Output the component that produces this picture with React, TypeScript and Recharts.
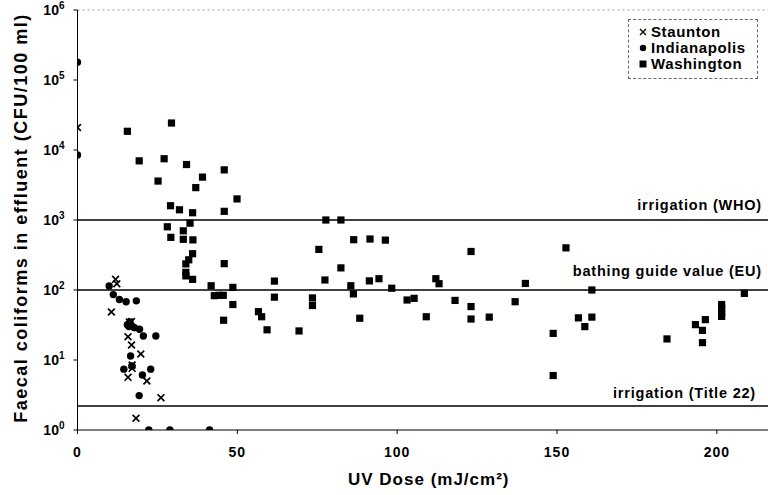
import { ScatterChart, Scatter, XAxis, YAxis, ReferenceLine, Legend } from 'recharts';

// UV dose (mJ/cm2) and faecal coliforms (CFU/100 ml)
const stauntonDose = [0, 11.9, 12.3, 10.6, 16.2, 16.9, 15.8, 16.9, 19.8, 17.1, 17.1, 15.8, 21.7, 26.1, 18.3];
const stauntonCfu = [21000, 142, 123, 48.5, 35, 35.5, 21.5, 16.4, 12.2, 8.5, 7.6, 5.65, 5.0, 2.9, 1.47];

const indyDose = [0, 0, 9.9, 11.2, 13.1, 15.2, 18.4, 15.6, 16.4, 16.1, 17.8, 19.4, 20.6, 24.5, 16.6, 14.5, 17.0, 22.9, 20.3, 19.3, 22.3, 28.9, 41.3];
const indyCfu = [180000, 8500, 114, 86, 73, 68, 70, 32, 35, 30, 29, 27.5, 22, 22, 11.4, 7.4, 8.2, 7.4, 6.1, 3.1, 1, 1, 1];

const washDose = [
  15.6, 29.4, 19.3, 27.1, 34.1, 45.9, 25.2, 39.1, 37.0, 49.9, 29.1, 31.9, 36.0, 45.9, 28.1, 35.2, 33.1, 29.2, 33.1, 36.1,
  36.0, 34.8, 33.9, 45.9, 33.9, 33.9, 36.0, 41.8, 48.6, 42.8, 44.2, 45.6, 48.6, 45.7, 56.6, 57.6, 59.3,
  77.7, 82.4, 86.4, 91.5, 96.3, 75.5, 123.1, 82.4, 61.6, 77.4, 91.3, 94.3, 112.1, 113.1, 85.5, 98.3, 86.3,
  61.6, 73.5, 73.5, 103.1, 105.3, 118.1, 123.1, 88.3, 109.1, 123.1, 128.8, 69.3,
  152.8, 140.1, 160.9, 208.6, 136.9, 156.7, 160.9, 158.7, 148.8, 148.8, 184.4, 193.3, 196.4, 195.5, 195.5,
  201.5, 201.5, 201.5, 201.5,
];
const washCfu = [
  18500, 24300, 7000, 7500, 6200, 5200, 3600, 4100, 2900, 2000, 1600, 1400, 1270, 1330, 800, 900, 700, 565, 530, 520,
  330, 270, 236, 238, 179, 159, 142, 115, 109, 83, 84, 84, 62, 37, 49, 41.5, 27,
  1000, 1000, 523, 535, 516, 380, 355, 207, 134, 139, 135, 145, 145, 123, 115, 106, 88,
  79, 77, 60, 72, 76, 71, 58, 39.5, 41.5, 38.5, 41, 26,
  400, 124, 100, 89.5, 68, 40, 41, 30, 24, 6.0, 20, 32, 37.7, 26.5, 17.7,
  62, 55, 47, 42,
];

const xTicks = [0, 50, 100, 150, 200];
const yTicks = [1, 10, 100, 1000, 10000, 100000, 1000000];
const seriesNames = ['Staunton', 'Indianapolis', 'Washington'];

const zip = (xs: number[], ys: number[]) => xs.map((x, i) => ({ x, y: ys[i] }));
const staunton = zip(stauntonDose, stauntonCfu);
const indianapolis = zip(indyDose, indyCfu);
const washington = zip(washDose, washCfu);

const FONT = '"Liberation Sans", Arial, sans-serif';

const XMark = (p: any) => {
  const { cx, cy } = p;
  const s = 3.4;
  return (
    <path
      d={`M${cx - s},${cy - s}L${cx + s},${cy + s}M${cx - s},${cy + s}L${cx + s},${cy - s}`}
      stroke="#000"
      strokeWidth={1.7}
      fill="none"
    />
  );
};
const Dot = (p: any) => <circle cx={p.cx} cy={p.cy} r={3.7} fill="#000" />;
const Square = (p: any) => <rect x={p.cx - 3.6} y={p.cy - 3.6} width={7.2} height={7.2} fill="#000" />;

const PowTick = (props: any) => {
  const { x, y, payload } = props;
  const exp = Math.round(Math.log10(payload.value));
  return (
    <text x={x} y={y + 5} textAnchor="end" fontFamily={FONT} fontWeight={700} fontSize={14} fill="#000">
      10
      <tspan dy={-6} fontSize={10}>
        {exp}
      </tspan>
    </text>
  );
};

const lineLabel = (text: string, lift: number, inset: number) => (props: any) => {
  const { viewBox } = props;
  return (
    <text
      x={viewBox.x + viewBox.width - inset}
      y={viewBox.y - lift}
      textAnchor="end"
      fontFamily={FONT}
      fontWeight={700}
      fontSize={14.5}
      letterSpacing={0.8}
      fill="#000"
    >
      {text}
    </text>
  );
};

const LegendBox = () => (
  <div
    style={{
      border: '1px dashed #666',
      boxSizing: 'border-box',
      width: 130,
      height: 60,
      padding: '4px 0 0 9px',
      fontFamily: FONT,
      fontWeight: 700,
      fontSize: 15,
      lineHeight: '16px',
      letterSpacing: 0.6,
      color: '#000',
      background: '#fff',
    }}
  >
    {seriesNames.map((name, i) => (
      <div key={name} style={{ display: 'flex', alignItems: 'center' }}>
        <svg width={10} height={10} style={{ marginRight: 3 }}>
          {i === 0 && <path d="M2,2L8,8M2,8L8,2" stroke="#000" strokeWidth={1.4} />}
          {i === 1 && <circle cx={5} cy={5} r={3.2} fill="#000" />}
          {i === 2 && <rect x={1.5} y={1.5} width={7} height={7} fill="#000" />}
        </svg>
        {name}
      </div>
    ))}
  </div>
);

export default function App() {
  return (
    <div style={{ position: 'absolute', left: 0, top: 0, width: 768, height: 495, background: '#fff' }}>
      <ScatterChart width={768} height={495} margin={{ top: 10, right: 0, bottom: 0, left: 0 }}>
        <XAxis
          type="number"
          dataKey="x"
          domain={[0, 216]}
          ticks={xTicks}
          allowDataOverflow
          height={65}
          tickSize={4}
          tickMargin={13}
          stroke="#000"
          tick={{ fill: '#000', fontFamily: FONT, fontWeight: 700, fontSize: 14, letterSpacing: 1 }}
          label={(props: any) => {
            const { viewBox } = props;
            return (
              <text
                x={viewBox.x + viewBox.width / 2 + 6}
                y={485}
                textAnchor="middle"
                fontFamily={FONT}
                fontWeight={700}
                fontSize={17}
                letterSpacing={1}
                fill="#000"
              >
                UV Dose (mJ/cm²)
              </text>
            );
          }}
        />
        <YAxis
          type="number"
          dataKey="y"
          scale="log"
          domain={[1, 1000000]}
          ticks={yTicks}
          allowDataOverflow
          width={77.5}
          tickSize={4}
          tickMargin={9}
          stroke="#000"
          tick={<PowTick />}
          label={(props: any) => {
            const { viewBox } = props;
            const cy = viewBox.y + viewBox.height / 2 - 2;
            return (
              <text
                x={27}
                y={cy}
                transform={`rotate(-90, 27, ${cy})`}
                textAnchor="middle"
                fontFamily={FONT}
                fontWeight={700}
                fontSize={18}
                letterSpacing={1.5}
                fill="#000"
              >
                Faecal coliforms in effluent (CFU/100 ml)
              </text>
            );
          }}
        />
        <ReferenceLine y={1000000} stroke="#999" strokeDasharray="2 3" />
        <ReferenceLine y={1000} stroke="#000" strokeWidth={1.5} label={lineLabel('irrigation (WHO)', 10, 6)} />
        <ReferenceLine y={100} stroke="#000" strokeWidth={1.5} label={lineLabel('bathing guide value (EU)', 14, 6)} />
        <ReferenceLine y={2.2} stroke="#000" strokeWidth={1.5} label={lineLabel('irrigation (Title 22)', 8, 12)} />
        <Scatter name="Staunton" data={staunton} shape={XMark} isAnimationActive={false} />
        <Scatter name="Indianapolis" data={indianapolis} shape={Dot} isAnimationActive={false} />
        <Scatter name="Washington" data={washington} shape={Square} isAnimationActive={false} />
        <Legend
          layout="horizontal"
          verticalAlign="middle"
          align="center"
          content={() => <LegendBox />}
          wrapperStyle={{ left: 628, top: 19, width: 130, height: 60 }}
        />
      </ScatterChart>
    </div>
  );
}
